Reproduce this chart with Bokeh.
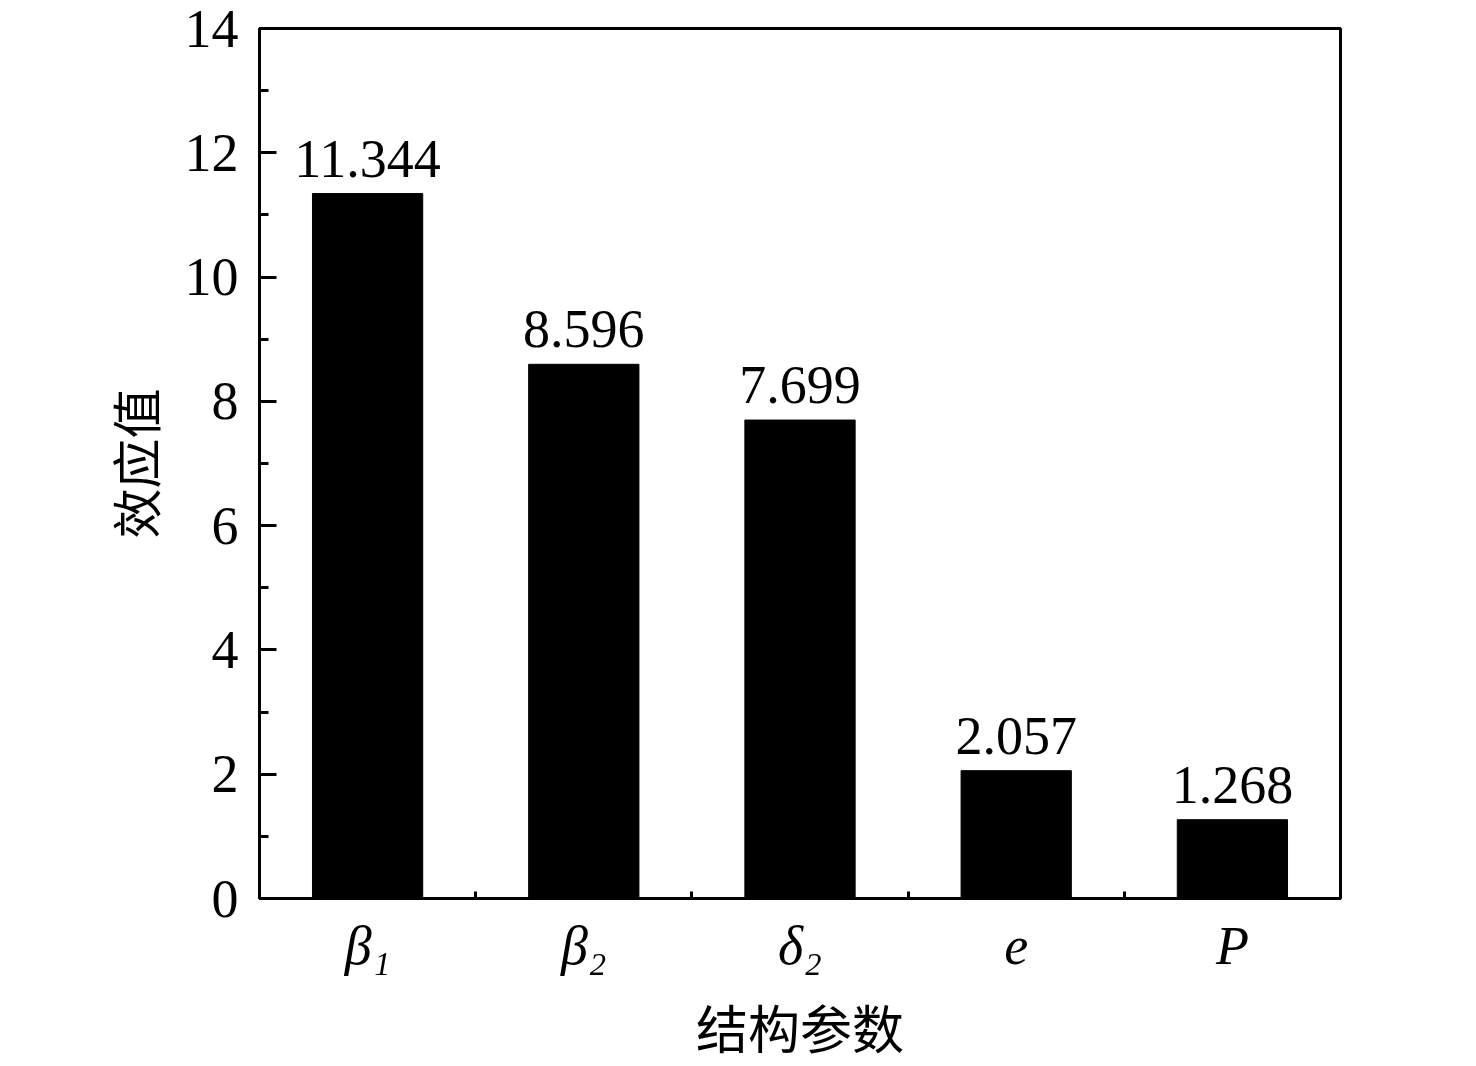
from bokeh.plotting import figure
from bokeh.models import ColumnDataSource, FixedTicker, Range1d
from bokeh.core.properties import value
from bokeh.embed import file_html
from bokeh.resources import INLINE

# data
categories = ["β₁", "β₂", "δ₂", "e", "P"]
effects = [11.344, 8.596, 7.699, 2.057, 1.268]
value_labels = ["11.344", "8.596", "7.699", "2.057", "1.268"]
y_ticks = [0, 2, 4, 6, 8, 10, 12, 14]
y_minor = [1, 3, 5, 7, 9, 11, 13]
x_title = "结构参数"
y_title = "效应值"

SERIF = "Liberation Serif"
CJK = "Noto Sans CJK SC"

xs = list(range(len(effects)))
src = ColumnDataSource(dict(x=xs, top=effects, lab=value_labels))

p = figure(frame_width=1081, frame_height=870,
           min_border_left=259, min_border_right=100,
           min_border_top=28, min_border_bottom=166,
           x_range=Range1d(-0.5, len(effects) - 0.5),
           y_range=Range1d(0, 14),
           output_backend="svg", toolbar_location=None)

p.vbar(x="x", top="top", width=0.51, source=src, fill_color="black", line_color="black")
p.text(x="x", y="top", text="lab", source=src, text_align="center",
       text_baseline="alphabetic", y_offset=-35,
       text_font=value(SERIF), text_font_size="54px", text_color="black")

p.grid.visible = False
p.outline_line_color = "black"
p.outline_line_width = 3
p.background_fill_color = "white"
p.border_fill_color = "white"

# y axis
ya = p.yaxis[0]
ya.ticker = FixedTicker(ticks=y_ticks, minor_ticks=y_minor)
ya.axis_line_width = 3
ya.major_tick_in = 17
ya.major_tick_out = 0
ya.minor_tick_in = 9
ya.minor_tick_out = 0
ya.major_tick_line_width = 3
ya.minor_tick_line_width = 3
ya.major_label_text_font = SERIF
ya.major_label_text_font_size = "54px"
ya.major_label_text_color = "black"
ya.major_label_standoff = 21
ya.axis_label = y_title
ya.axis_label_text_font = CJK
ya.axis_label_text_font_size = "50px"
ya.axis_label_text_font_style = "normal"
ya.axis_label_text_color = "black"
ya.axis_label_standoff = 12

# x axis
xa = p.xaxis[0]
xa.ticker = FixedTicker(ticks=xs, minor_ticks=[i + 0.5 for i in xs[:-1]])
xa.axis_line_width = 3
xa.major_tick_in = 0
xa.major_tick_out = 0
xa.minor_tick_in = 7
xa.minor_tick_out = 0
xa.minor_tick_line_width = 3
xa.major_label_overrides = {i: c for i, c in zip(xs, categories)}
xa.major_label_text_font = SERIF
xa.major_label_text_font_style = "italic"
xa.major_label_text_font_size = "54px"
xa.major_label_text_color = "black"
xa.major_label_standoff = 17
xa.axis_label = x_title
xa.axis_label_text_font = CJK
xa.axis_label_text_font_size = "52px"
xa.axis_label_text_font_style = "normal"
xa.axis_label_text_color = "black"
xa.axis_label_standoff = 10

open("out.html", "w").write(file_html(p, INLINE))
